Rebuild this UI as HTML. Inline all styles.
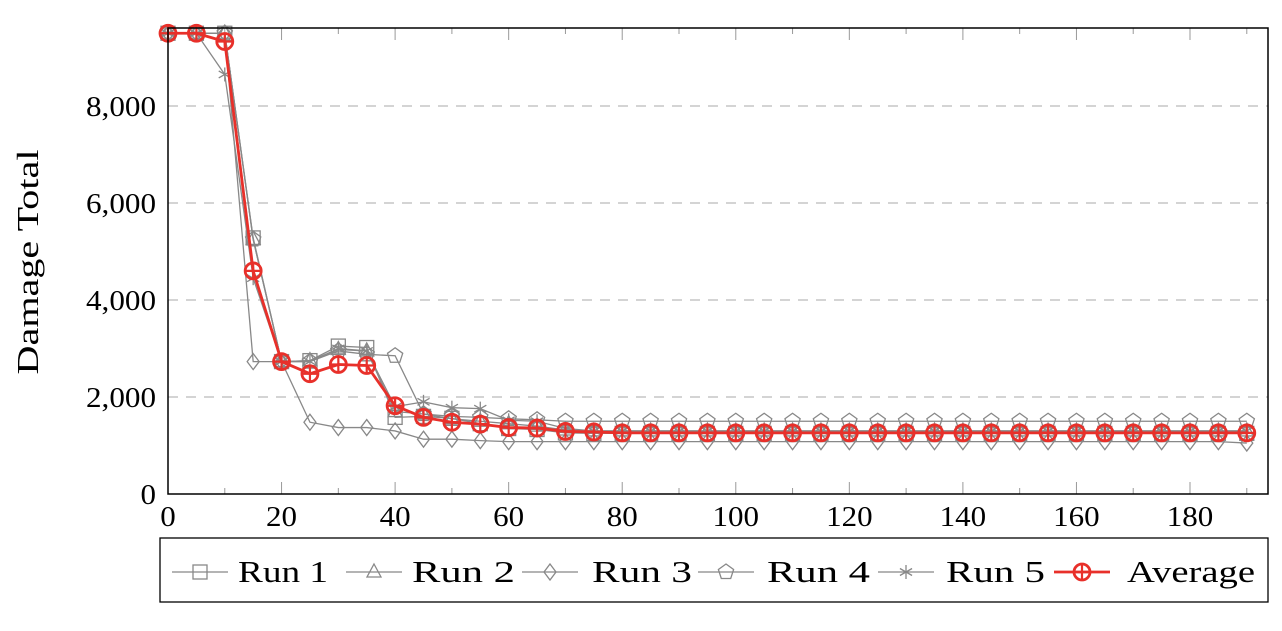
<!DOCTYPE html>
<html><head><meta charset="utf-8"><style>
body{margin:0;background:#fff;}
svg text{font-family:"Liberation Serif",serif;fill:#000;}
</style></head><body>
<svg id="c" width="1282" height="626" xmlns="http://www.w3.org/2000/svg"></svg>
<script>
const xs=[0,5,10,15,20,25,30,35,40,45,50,55,60,65,70,75,80,85,90,95,100,105,110,115,120,125,130,135,140,145,150,155,160,165,170,175,180,185,190];
const run1=[9500,9500,9500,5280,2730,2750,3050,3020,1580,1600,1560,1450,1350,1330,1260,1250,1250,1250,1250,1250,1250,1250,1250,1250,1250,1250,1250,1250,1250,1250,1250,1250,1250,1250,1250,1250,1250,1250,1250];
const run2=[9500,9500,9500,5250,2730,2750,2980,2950,1700,1650,1550,1500,1450,1400,1320,1300,1300,1300,1300,1300,1300,1300,1300,1300,1300,1300,1300,1300,1300,1300,1300,1300,1300,1300,1300,1300,1300,1300,1300];
const run3=[9500,9500,9500,2730,2730,1480,1370,1370,1300,1130,1130,1100,1080,1080,1080,1080,1080,1080,1080,1080,1080,1080,1080,1080,1080,1080,1080,1080,1080,1080,1080,1080,1080,1080,1080,1080,1080,1080,1050];
const run4=[9500,9500,9500,5250,2730,2730,2950,2880,2850,1650,1600,1580,1550,1530,1500,1500,1500,1500,1500,1500,1500,1500,1500,1500,1500,1500,1500,1500,1500,1500,1500,1500,1500,1500,1500,1500,1500,1500,1500];
const run5=[9500,9500,8650,4450,2730,2730,3000,2950,1800,1900,1780,1760,1520,1500,1350,1300,1300,1300,1300,1300,1300,1300,1300,1300,1300,1300,1300,1300,1300,1300,1300,1300,1300,1300,1300,1300,1300,1300,1300];
const avg=[9500,9500,9330,4600,2730,2480,2670,2650,1820,1580,1480,1440,1370,1360,1290,1280,1260,1260,1260,1260,1260,1260,1260,1260,1260,1260,1260,1260,1260,1260,1260,1260,1260,1260,1260,1260,1260,1260,1260];
const xTicks=[0,20,40,60,80,100,120,140,160,180];
const yTicks=[0,2000,4000,6000,8000];
const yTickLabels=["0","2,000","4,000","6,000","8,000"];
const legendLabels=["Run 1","Run 2","Run 3","Run 4","Run 5","Average"];

const L=168,R=1268,T=28,B=494;
const X=v=>L+v*(1190-168)/180;
const Y=v=>B-v*(B-106)/8000;
const svg=document.getElementById('c');
const NS="http://www.w3.org/2000/svg";
function mk(t,a,p){const e=document.createElementNS(NS,t);for(const k in a)e.setAttribute(k,a[k]);(p||svg).appendChild(e);return e;}
function tlen(s){let w=0;for(const ch of s)w+=(ch===','?8:15.5);return w;}

yTicks.slice(1).forEach(v=>{const g=mk('line',{x1:L,x2:R,y1:Y(v),y2:Y(v),stroke:'#bbb','stroke-width':1.3,'stroke-dasharray':'10,8'});

});
for(let v=0;v<=190;v+=10){const major=v%20===0;
 const t1=mk('line',{x1:X(v),x2:X(v),y1:B,y2:B-(major?12:6),stroke:'#999','stroke-width':1});
 
 
 const t2=mk('line',{x1:X(v),x2:X(v),y1:T,y2:T+(major?12:6),stroke:'#999','stroke-width':1});
 
 }
xTicks.forEach(v=>{const s=String(v);const t=mk('text',{x:X(v),y:B+32,'font-size':29,'text-anchor':'middle',textLength:tlen(s),lengthAdjust:'spacingAndGlyphs'});t.textContent=s;
 
 });
yTicks.forEach((v,i)=>{const s=yTickLabels[i];const t=mk('text',{x:L-12-tlen(s),y:Y(v)+10,'font-size':29,textLength:tlen(s),lengthAdjust:'spacingAndGlyphs'});t.textContent=s;
 
 });
const yl=mk('text',{x:0,y:0,'font-size':31,'text-anchor':'middle',textLength:225,lengthAdjust:'spacingAndGlyphs',transform:`translate(38,${(T+B)/2+1}) rotate(-90)`});yl.textContent='Damage Total';



function marker(shape,x,y,g,color){
 const s=color||'#888';
 if(shape==='sq')mk('rect',{x:x-7,y:y-7,width:14,height:14,fill:'none',stroke:s,'stroke-width':1.3},g);
 else if(shape==='tri')mk('polygon',{points:`${x},${y-8} ${x+7},${y+5} ${x-7},${y+5}`,fill:'none',stroke:s,'stroke-width':1.3},g);
 else if(shape==='dia')mk('polygon',{points:`${x},${y-8} ${x+6},${y} ${x},${y+8} ${x-6},${y}`,fill:'none',stroke:s,'stroke-width':1.3},g);
 else if(shape==='pent'){let p=[];for(let k=0;k<5;k++){const a=-Math.PI/2+k*2*Math.PI/5;p.push((x+8*Math.cos(a))+','+(y+8*Math.sin(a)));}mk('polygon',{points:p.join(' '),fill:'none',stroke:s,'stroke-width':1.3},g);}
 else if(shape==='star'){for(let k=0;k<3;k++){const a=-Math.PI/2+k*Math.PI/3;mk('line',{x1:x-7*Math.cos(a),y1:y-7*Math.sin(a),x2:x+7*Math.cos(a),y2:y+7*Math.sin(a),stroke:s,'stroke-width':1.3},g);}}
 else if(shape==='oplus'){mk('circle',{cx:x,cy:y,r:8,fill:'none',stroke:s,'stroke-width':2.8},g);mk('line',{x1:x-8,x2:x+8,y1:y,y2:y,stroke:s,'stroke-width':2.2},g);mk('line',{x1:x,x2:x,y1:y-8,y2:y+8,stroke:s,'stroke-width':2.2},g);}
}
const series=[[run1,'sq','run-1'],[run2,'tri','run-2'],[run3,'dia','run-3'],[run4,'pent','run-4'],[run5,'star','run-5'],[avg,'oplus','average']];
series.forEach(([d,sh,nm])=>{
 const g=mk('g',{});
 
 
 const col=nm==='average'?'#e8302a':'#888';
 mk('polyline',{points:d.map((v,i)=>X(xs[i])+','+Y(v)).join(' '),fill:'none',stroke:col,'stroke-width':nm==='average'?2.8:1.3},g);
 d.forEach((v,i)=>marker(sh,X(xs[i]),Y(v),g,col));
});
const frame=mk('rect',{x:L,y:T,width:R-L,height:B-T,fill:'none',stroke:'#000','stroke-width':1.5});



const lg=mk('g',{});


mk('rect',{x:160,y:538,width:1108,height:64,fill:'#fff',stroke:'#000','stroke-width':1.3},lg);
const lx=[172,346,522,698,878,1054];
const tx=[238,412,592,767,946,1127];
const tw=[90,103,100,103,99,128];
legendLabels.forEach((lab,i)=>{
 const e=mk('g',{},lg);
 
 
 const col=i===5?'#e8302a':'#888';
 mk('line',{x1:lx[i],x2:lx[i]+56,y1:572,y2:572,stroke:col,'stroke-width':i===5?2.8:1.3},e);
 marker(series[i][1],lx[i]+28,572,e,col);
 const t=mk('text',{x:tx[i],y:582,'font-size':31,textLength:tw[i],lengthAdjust:'spacingAndGlyphs'},e);t.textContent=lab;
});
</script>
</body></html>
